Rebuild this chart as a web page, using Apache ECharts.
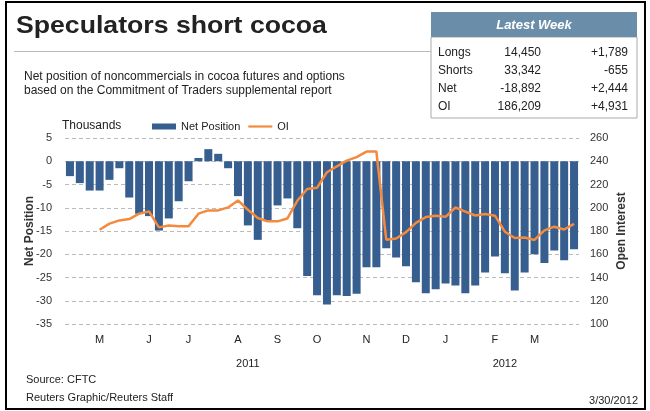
<!DOCTYPE html>
<html>
<head>
<meta charset="utf-8">
<script src="https://cdn.jsdelivr.net/npm/echarts@6/dist/echarts.min.js"></script>
<style>
  html, body { margin: 0; padding: 0; background: #fff; }
  #chart { width: 650px; height: 411px; }
</style>
</head>
<body>
<div id="chart"></div>
<script>
  // weekly COT data, Apr 2011 - Mar 2012
  const weekLabels = ['', '', '', 'M', '', '', '', '', 'J', '', '', '', 'J', '', '', '', '', 'A', '', '', '', 'S', '', '', '', 'O',
    '', '', '', '', 'N', '', '', '', 'D', '', '', '', 'J', '', '', '', '', 'F', '', '', '', 'M', '', '', '', ''];
  const yearLabels = ['', '', '', '', '', '', '', '', '', '', '', '', '', '', '', '', '', '', '2011', '', '', '', '', '', '', '',
    '', '', '', '', '', '', '', '', '', '', '', '', '', '', '', '', '', '', '2012', '', '', '', '', '', '', ''];

  // thousands of contracts
  const netPosition = [-3.2, -4.7, -6.3, -6.3, -4.0, -1.5, -7.8, -11.3, -11.8, -14.9, -12.3, -8.6, -4.3, 0.7, 2.6, 1.6, -1.5,
    -7.5, -13.8, -16.9, -12.7, -9.5, -8.0, -14.4, -24.7, -28.8, -30.8, -28.8, -29.0, -28.5, -22.8, -22.8, -18.7, -20.7,
    -22.6, -26.0, -28.4, -27.5, -26.3, -26.7, -28.4, -26.7, -23.9, -20.5, -24.1, -27.8, -23.9, -20.0, -21.9, -19.2, -21.3, -18.9];

  const openInterest = [null, null, null, 181.1, 186.3, 189.1, 190.3, 194.9, 196.9, 183.1, 184.8, 184.0, 184.0, 194.9, 197.7,
    197.7, 200.3, 206.3, 198.3, 191.2, 188.3, 188.3, 190.8, 206.0, 216.1, 217.2, 230.5, 235.6, 240.5, 243.5, 248.3, 248.3,
    172.5, 173.5, 179.0, 187.0, 192.0, 193.2, 192.2, 200.2, 196.6, 193.3, 194.6, 193.2, 179.4, 174.0, 174.4, 172.3, 180.5,
    183.7, 181.3, 186.2];

  // latest week box
  const tableRows = ['Longs', 'Shorts', 'Net', 'OI'];
  const tableValues = ['14,450', '33,342', '-18,892', '186,209'];
  const tableChanges = ['+1,789', '-655', '+2,444', '+4,931'];

  const FONT = 'Liberation Sans';

  function txt(x, y, text, st) {
    return {
      type: 'text', x: x, y: y, silent: true,
      style: Object.assign({
        text: text, fill: '#222', fontFamily: FONT, fontSize: 11, verticalAlign: 'middle'
      }, st || {})
    }
  }

  let graphics = [
    // frame
    { type: 'rect', shape: { x: 6, y: 2, width: 639, height: 407 }, style: { fill: 'none', stroke: '#000', lineWidth: 2 }, silent: true },
    // title
    { type: 'text', x: 16, y: 26, scaleX: 1.11, silent: true,
      style: { text: 'Speculators short cocoa', fill: '#222', fontFamily: FONT, fontSize: 24, fontWeight: 'bold', verticalAlign: 'middle' } },
    { type: 'line', shape: { x1: 14, y1: 51.5, x2: 431, y2: 51.5 }, style: { stroke: '#bbb', lineWidth: 1 }, silent: true },
    txt(24, 77, 'Net position of noncommercials in cocoa futures and options', { fontSize: 12 }),
    txt(24, 91, 'based on the Commitment of Traders supplemental report', { fontSize: 12 }),
    txt(62, 126, 'Thousands', { fontSize: 12 }),
    // table
    { type: 'rect', shape: { x: 431, y: 37, width: 206, height: 81 }, style: { fill: '#fff', stroke: '#aaa', lineWidth: 1 }, silent: true },
    { type: 'rect', shape: { x: 431, y: 12, width: 206, height: 25 }, style: { fill: '#6a8daa' }, silent: true },
    txt(534, 25, 'Latest Week', { fill: '#fff', fontSize: 13, fontWeight: 'bold', fontStyle: 'italic', align: 'center' }),
    // footer
    txt(26, 380, 'Source: CFTC'),
    txt(26, 398, 'Reuters Graphic/Reuters Staff'),
    txt(638, 401, '3/30/2012', { align: 'right' })
  ];
  const rowY = [53, 71, 89, 107];
  tableRows.forEach(function (r, i) {
    graphics.push(txt(438, rowY[i], r, { fontSize: 12 }));
    graphics.push(txt(541, rowY[i], tableValues[i], { fontSize: 12, align: 'right' }));
    graphics.push(txt(628, rowY[i], tableChanges[i], { fontSize: 12, align: 'right' }));
  });

  const chart = echarts.init(document.getElementById('chart'), null, { renderer: 'canvas' });
  chart.setOption({
    animation: false,
    backgroundColor: '#fff',
    textStyle: { fontFamily: FONT },
    grid: { left: 65, right: 71, top: 138, bottom: 87 },
    legend: {
      left: 152, top: 121, padding: 0,
      itemWidth: 24, itemHeight: 6, itemGap: 8,
      symbolKeepAspect: true,
      textStyle: { fontSize: 11, color: '#222' },
      data: [
        { name: 'Net Position', icon: 'rect' },
        { name: 'OI', icon: 'path://M0 0H240V22H0Z' }
      ]
    },
    xAxis: [{
      type: 'category',
      data: weekLabels,
      axisLine: { show: false, onZero: false },
      axisTick: { show: false },
      axisLabel: { interval: 0, margin: 10, fontSize: 11, color: '#222' }
    }, {
      type: 'category',
      position: 'bottom',
      offset: 24,
      data: yearLabels,
      axisLine: { show: false, onZero: false },
      axisTick: { show: false },
      axisLabel: { interval: 0, margin: 10, fontSize: 11, color: '#222' }
    }],
    yAxis: [{
      type: 'value',
      min: -35, max: 5, interval: 5,
      name: 'Net Position',
      nameLocation: 'middle', nameRotate: 90, nameGap: 29, nameMoveOverlap: false,
      nameTextStyle: { fontSize: 12, fontWeight: 'bold', color: '#333' },
      axisLine: { show: false },
      axisTick: { show: false },
      axisLabel: { margin: 13, fontSize: 11, color: '#333' },
      splitLine: { lineStyle: { type: [4, 3], color: '#bbb' } }
    }, {
      type: 'value',
      min: 100, max: 260, interval: 20,
      name: 'Open Interest',
      nameLocation: 'middle', nameRotate: 90, nameGap: 37, nameMoveOverlap: false,
      nameTextStyle: { fontSize: 12, fontWeight: 'bold', color: '#333' },
      axisLine: { show: false },
      axisTick: { show: false },
      axisLabel: { margin: 11, fontSize: 11, color: '#333' },
      splitLine: { show: false }
    }],
    series: [{
      name: 'Net Position',
      type: 'bar',
      data: netPosition,
      barWidth: 8,
      itemStyle: { color: '#365e8f' }
    }, {
      name: 'OI',
      type: 'line',
      yAxisIndex: 1,
      data: openInterest,
      symbol: 'none',
      lineStyle: { color: '#f48a3e', width: 2.5 },
      itemStyle: { color: '#f48a3e' }
    }],
    graphic: graphics
  });
</script>
</body>
</html>
